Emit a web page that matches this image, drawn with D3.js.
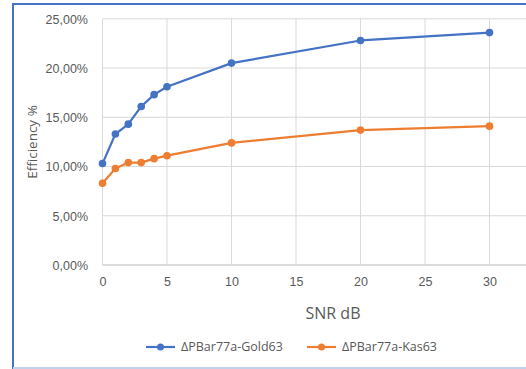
<!DOCTYPE html>
<html><head><meta charset="utf-8">
<script src="https://cdn.jsdelivr.net/npm/d3@7"></script>
<style>
html,body{margin:0;padding:0;background:#fff;overflow:hidden}
svg{display:block;font-family:"Open Sans","Noto Sans",sans-serif}
</style></head><body>
<svg id="c" width="526" height="369"></svg>
<script>
const snr = [0, 1, 2, 3, 4, 5, 10, 20, 30];
const gold63 = [0.103, 0.133, 0.143, 0.161, 0.173, 0.181, 0.205, 0.228, 0.236];
const kas63 = [0.083, 0.098, 0.104, 0.104, 0.108, 0.111, 0.124, 0.137, 0.141];
const xTicks = [0, 5, 10, 15, 20, 25, 30, 35];
const yTicks = [0, 0.05, 0.10, 0.15, 0.20, 0.25];
const seriesNames = ["ΔPBar77a-Gold63", "ΔPBar77a-Kas63"];
const colors = ["#4472c4", "#ed7d31"];

const svg = d3.select("#c");
// border
svg.append("rect").attr("x", 13).attr("y", 4).attr("width", 540).attr("height", 364)
  .attr("fill", "none").attr("stroke", "#4472c4").attr("stroke-width", 2);
svg.append("line").attr("x1", 13).attr("x2", 526).attr("y1", 368).attr("y2", 368)
  .attr("stroke", "#eef0fa").attr("stroke-width", 1.5);

const x = d3.scaleLinear().domain([0, 35]).range([102.5, 554]);
const y = d3.scaleLinear().domain([0, 0.25]).range([265, 18.8]);

const g = svg.append("g");
// grid
g.selectAll(".vg").data(xTicks).enter().append("line")
  .attr("x1", d => x(d)).attr("x2", d => x(d)).attr("y1", y(0.25)).attr("y2", y(0))
  .attr("stroke", "#d9d9d9").attr("stroke-width", 1);
g.selectAll(".hg").data(yTicks).enter().append("line")
  .attr("x1", x(0)).attr("x2", 560).attr("y1", d => y(d)).attr("y2", d => y(d))
  .attr("stroke", d => d === 0 ? "#d0d0d0" : "#d9d9d9").attr("stroke-width", d => d === 0 ? 1.5 : 1);

const fmt = d => (d * 100).toFixed(2).replace(".", ",") + "%";
// y axis labels
const yAxis = d3.axisLeft(y).tickValues(yTicks).tickFormat(fmt).tickSize(0).tickPadding(0);
const ya = svg.append("g").attr("transform", "translate(88,0)").call(yAxis);
ya.select(".domain").remove();
ya.selectAll("text").attr("fill", "#595959").style("font-size", "12.5px").attr("dy", "0.35em");

const xAxis = d3.axisBottom(x).tickValues(xTicks.filter(d => d <= 30)).tickSize(0).tickPadding(0);
const xa = svg.append("g").attr("transform", "translate(0,277)").call(xAxis);
xa.select(".domain").remove();
xa.selectAll("text").attr("fill", "#595959").style("font-size", "12.5px").attr("dy", "0.71em");

svg.append("text").attr("x", 333).attr("y", 319).attr("text-anchor", "middle")
  .attr("fill", "#595959").style("font-size", "16px").text("SNR dB");
svg.append("text").attr("transform", "translate(37,142) rotate(-90)").attr("text-anchor", "middle")
  .attr("fill", "#595959").style("font-size", "13.5px").text("Efficiency %");

const data = [gold63, kas63];
const line = d3.line().x((d, i) => x(snr[i])).y(d => y(d));
data.forEach((s, k) => {
  svg.append("path").datum(s).attr("d", line).attr("fill", "none")
    .attr("stroke", colors[k]).attr("stroke-width", 2.2).attr("stroke-linejoin", "round");
  svg.selectAll(".m" + k).data(s).enter().append("circle")
    .attr("cx", (d, i) => x(snr[i])).attr("cy", d => y(d)).attr("r", 3.8).attr("fill", colors[k]);
});

// legend
const leg = [{x0: 146, tx: 181}, {x0: 307, tx: 342}];
leg.forEach((l, k) => {
  svg.append("line").attr("x1", l.x0).attr("x2", l.x0 + 29).attr("y1", 347).attr("y2", 347)
    .attr("stroke", colors[k]).attr("stroke-width", 2.2);
  svg.append("circle").attr("cx", l.x0 + 14.5).attr("cy", 347).attr("r", 3.5).attr("fill", colors[k]);
  svg.append("text").attr("x", l.tx).attr("y", 347).attr("dy", "0.35em")
    .attr("fill", "#595959").style("font-size", "12.5px").text(seriesNames[k]);
});
</script></body></html>
